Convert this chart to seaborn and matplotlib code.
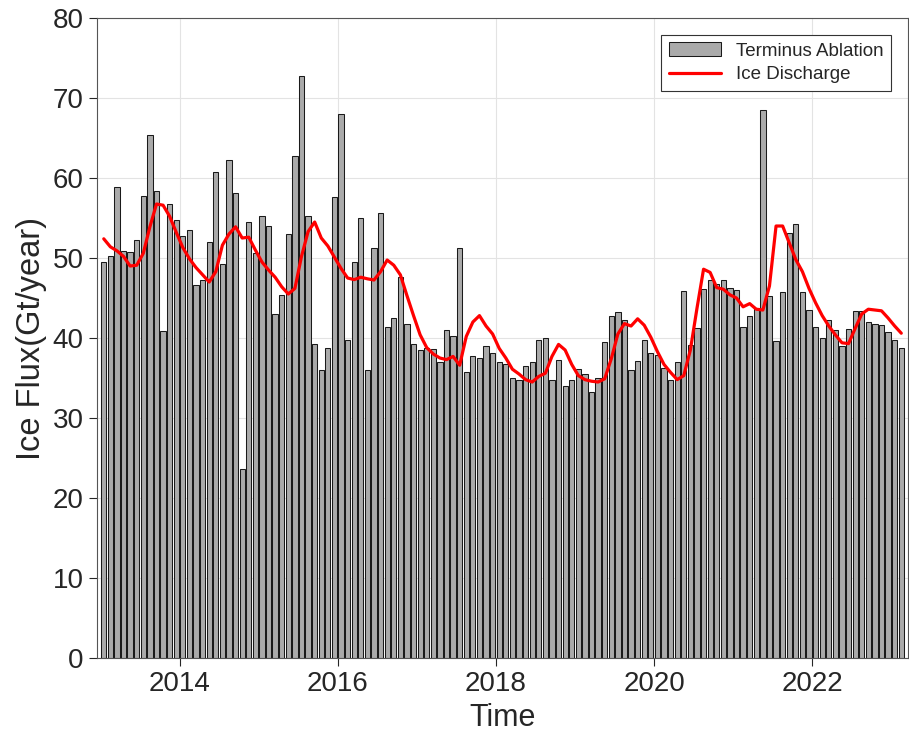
import matplotlib
matplotlib.use('Agg')
import matplotlib.pyplot as plt
import seaborn as sns
import pandas as pd

# monthly series, Jan 2013 - Feb 2023
start = '2013-01'
n_months = 122

ablation = [49.5, 50.2, 58.9, 50.9, 50.7, 52.25, 57.8, 65.4, 58.4, 40.9,
            56.7, 54.7, 52.8, 53.5, 46.6, 47.2, 52.0, 60.8, 49.2, 62.2,
            58.1, 23.6, 54.5, 50.6, 55.2, 54.0, 43.0, 45.4, 53.0, 62.75,
            72.8, 55.25, 39.3, 36.0, 38.8, 57.6, 68.0, 39.8, 49.5, 55.0,
            36.0, 51.2, 55.6, 41.4, 42.5, 47.6, 41.8, 39.3, 38.5, 38.8,
            38.6, 37.0, 40.95, 40.2, 51.3, 35.8, 37.8, 37.5, 39.0, 38.1,
            37.0, 36.8, 35.0, 34.7, 36.5, 37.0, 39.7, 40.0, 34.7, 37.3,
            34.0, 34.7, 36.1, 35.5, 33.3, 35.0, 39.5, 42.7, 43.2, 42.3,
            36.0, 37.1, 39.8, 38.1, 37.9, 36.2, 34.75, 37.0, 45.9, 39.1,
            41.25, 46.1, 47.2, 46.8, 47.2, 46.3, 46.0, 41.4, 42.8, 43.7,
            68.5, 45.3, 39.6, 45.8, 53.1, 54.2, 45.8, 43.5, 41.4, 40.0,
            42.25, 41.0, 39.0, 41.1, 43.4, 43.4, 42.0, 41.8, 41.6, 40.7,
            39.7, 38.8]

discharge = [52.4, 51.4, 50.9, 50.2, 49.0, 49.1, 50.6, 53.9, 56.75, 56.6,
             55.2, 53.2, 51.3, 49.9, 48.8, 47.9, 47.0, 48.3, 51.6, 53.0,
             53.9, 52.5, 52.6, 51.0, 49.5, 48.5, 47.6, 46.4, 45.5, 46.2,
             50.2, 53.3, 54.5, 52.5, 51.5, 50.1, 48.7, 47.5, 47.3, 47.6,
             47.4, 47.25, 48.3, 49.75, 49.1, 47.9, 45.3, 42.8, 40.4, 38.8,
             38.0, 37.5, 37.3, 37.7, 36.6, 40.2, 42.0, 42.8, 41.5, 40.5,
             38.7, 37.5, 36.1, 35.5, 34.8, 34.5, 35.2, 35.6, 37.7, 39.2,
             38.5, 36.7, 35.3, 34.8, 34.6, 34.5, 34.9, 37.4, 40.5, 41.8,
             41.5, 42.4, 41.6, 40.1, 38.3, 36.7, 35.7, 34.8, 35.3, 38.5,
             43.7, 48.6, 48.2, 46.3, 46.1, 45.4, 45.0, 43.9, 44.3, 43.6,
             43.5, 46.5, 54.0, 54.0, 51.9, 49.8, 48.3, 46.2, 44.4, 42.8,
             41.5, 40.4, 39.4, 39.3, 41.2, 43.0, 43.6, 43.5, 43.4, 42.5,
             41.5, 40.6]

x_ticks = [2014, 2016, 2018, 2020, 2022]
y_ticks = [0, 10, 20, 30, 40, 50, 60, 70, 80]

dates = pd.date_range(start, periods=n_months, freq='MS')
df = pd.DataFrame({
    't': (dates.year + (dates.month - 0.5) / 12).round(4),
    'ablation': ablation,
    'discharge': discharge,
})

sns.set_style('ticks')
plt.rcParams['font.family'] = ['Liberation Sans', 'DejaVu Sans']

fig = plt.figure(figsize=(9.09, 7.47), dpi=100)
ax = fig.add_axes([0.1067, 0.1191, 0.8922, 0.8568])

ax.grid(True, color='#e3e3e3', linewidth=0.8)
ax.set_axisbelow(True)

sns.barplot(data=df, x='t', y='ablation', native_scale=True, errorbar=None,
            color='#aaaaaa', saturation=1, width=0.8, edgecolor='#1a1a1a',
            linewidth=0.75, label='Terminus Ablation', ax=ax)
sns.lineplot(data=df, x='t', y='discharge', color='red', linewidth=2.3,
             label='Ice Discharge', ax=ax)

ax.set_xlim(2012.956, 2023.21)
ax.set_ylim(0, 80)
ax.set_xticks(x_ticks)
ax.set_xticklabels([str(v) for v in x_ticks])
ax.set_yticks(y_ticks)
ax.tick_params(labelsize=20, colors='#262626', direction='out', length=6, width=0.8)
ax.set_xlabel('Time', fontsize=22, color='#262626')
ax.set_ylabel('Ice Flux(Gt/year)', fontsize=23.5, color='#262626')
for s in ax.spines.values():
    s.set_visible(True)
    s.set_color('#555555')
    s.set_linewidth(0.8)

handles, labels = ax.get_legend_handles_labels()
order = [labels.index('Terminus Ablation'), labels.index('Ice Discharge')]
leg = ax.legend([handles[i] for i in order], [labels[i] for i in order],
                loc='upper right', fontsize=13.5, fancybox=False, framealpha=1,
                edgecolor='#333333', handlelength=2.8, borderpad=0.4,
                labelspacing=0.35, borderaxespad=0.9)
leg.get_frame().set_linewidth(0.8)

fig.savefig('out.png', dpi=100)
